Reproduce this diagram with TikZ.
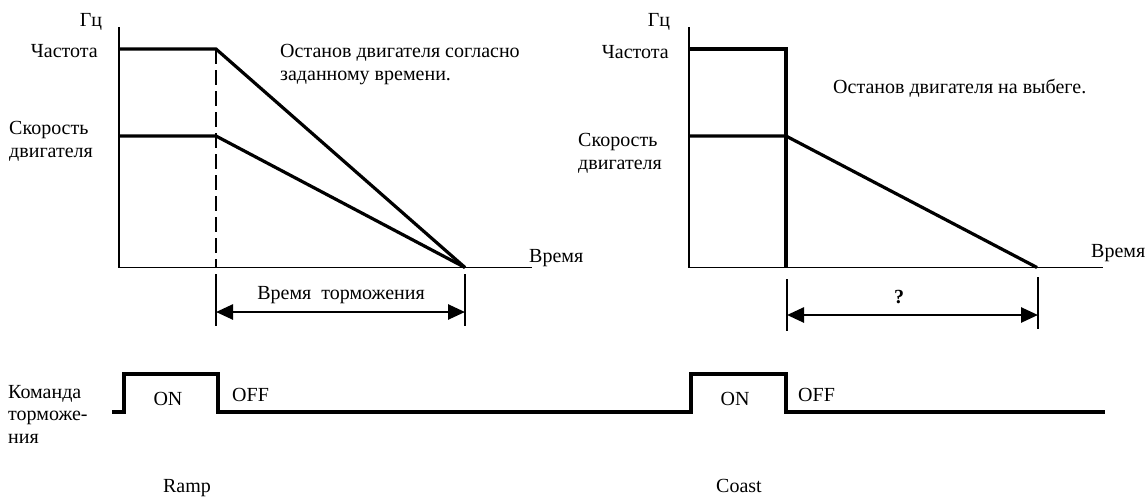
\documentclass[tikz,border=0pt]{standalone}
\usepackage{fontspec}
\setmainfont{Liberation Serif}
\usetikzlibrary{arrows.meta}
\begin{document}
\begin{tikzpicture}[x=1pt,y=-1pt,
  lbl/.style={inner sep=0pt, font=\fontsize{20}{23}\selectfont},
  axisline/.style={line width=1.5pt},
  curve/.style={line width=3.2pt, line join=miter},
  guide/.style={line width=1.5pt, dash pattern=on 15pt off 6pt},
  extline/.style={line width=1.4pt},
  dimarrow/.style={line width=2.6pt, {Triangle[length=17pt,width=15pt]}-{Triangle[length=17pt,width=15pt]}},
  pulse/.style={line width=3.4pt, line join=miter}]
\useasboundingbox (0,0) rectangle (1147,498);

% ---------- left graph (Ramp) ----------
\coordinate (LT) at (119,27);
\coordinate (LO) at (119,267.5);
\coordinate (LX) at (532,267.5);
\draw[axisline] (LT) -- (LO) -- (LX);
\coordinate (LF0) at (119,49);
\coordinate (LF1) at (216,49);
\coordinate (LS0) at (119,136);
\coordinate (LS1) at (216,136);
\coordinate (LE) at (465,267.5);
\coordinate (LD) at (216,267.5);
\draw[curve] (LF0) -- (LF1) -- (LE);
\draw[curve] (LS0) -- (LS1) -- (LE);
\draw[guide] (LF1) -- (LD);
\coordinate (LA0) at (216,274);
\coordinate (LA1) at (216,326);
\coordinate (LB0) at (465,274);
\coordinate (LB1) at (465,326);
\draw[extline] (LA0) -- (LA1);
\draw[extline] (LB0) -- (LB1);
\coordinate (LP) at (216,312);
\coordinate (LQ) at (465,312);
\draw[dimarrow] (LP) -- (LQ);

\node[lbl, anchor=base] (lhz) at (91,26) {Гц};
\node[lbl, anchor=base east] (lfreq) at (98,57) {Частота};
\node[lbl, anchor=base west] (lspd1) at (9,134) {Скорость};
\node[lbl, anchor=base west] (lspd2) at (9,157) {двигателя};
\node[lbl, anchor=base west] (ltitle1) at (280,57) {Останов двигателя согласно};
\node[lbl, anchor=base west] (ltitle2) at (280,80) {заданному времени.};
\node[lbl, anchor=base west] (ltime) at (529,262) {Время};
\node[lbl, anchor=base] (ldecel) at (341,299) {Время\ \ торможения};

% ---------- right graph (Coast) ----------
\coordinate (RT) at (689,27);
\coordinate (RO) at (689,267.5);
\coordinate (RX) at (1103,267.5);
\draw[axisline] (RT) -- (RO) -- (RX);
\coordinate (RF0) at (689,49);
\coordinate (RF1) at (786,49);
\coordinate (RF2) at (786,267.5);
\coordinate (RS0) at (689,136);
\coordinate (RS1) at (786,136);
\coordinate (RE) at (1037,267.5);
\draw[curve] (RF0) -- (RF1) -- (RF2);
\draw[curve] (RS0) -- (RS1) -- (RE);
\coordinate (RA0) at (787,279);
\coordinate (RA1) at (787,331);
\coordinate (RB0) at (1038,277);
\coordinate (RB1) at (1038,329);
\draw[extline] (RA0) -- (RA1);
\draw[extline] (RB0) -- (RB1);
\coordinate (RP) at (787,315);
\coordinate (RQ) at (1038,315);
\draw[dimarrow] (RP) -- (RQ);

\node[lbl, anchor=base] (rhz) at (659,26) {Гц};
\node[lbl, anchor=base east] (rfreq) at (669,58) {Частота};
\node[lbl, anchor=base west] (rspd1) at (578,146) {Скорость};
\node[lbl, anchor=base west] (rspd2) at (578,169) {двигателя};
\node[lbl, anchor=base west] (rtitle) at (833,93) {Останов двигателя на выбеге.};
\node[lbl, anchor=base west] (rtime) at (1091,257) {Время};
\node[lbl, anchor=base] (rq) at (899,303) {\textbf{?}};

% ---------- brake command ----------
\coordinate (P0) at (112,412);
\coordinate (P1) at (124,412);
\coordinate (P2) at (124,374);
\coordinate (P3) at (218,374);
\coordinate (P4) at (218,412);
\coordinate (P5) at (691,412);
\coordinate (P6) at (691,374);
\coordinate (P7) at (786,374);
\coordinate (P8) at (786,412);
\coordinate (P9) at (1105,412);
\draw[pulse] (P0) -- (P1) -- (P2) -- (P3) -- (P4) -- (P5) -- (P6) -- (P7) -- (P8) -- (P9);

\node[lbl, anchor=base west] (cmd1) at (8,398) {Команда};
\node[lbl, anchor=base west] (cmd2) at (8,420) {торможе-};
\node[lbl, anchor=base west] (cmd3) at (8,443) {ния};
\node[lbl, anchor=base] (lon) at (168,405) {ON};
\node[lbl, anchor=base west] (loff) at (232,401) {OFF};
\node[lbl, anchor=base] (ron) at (735,405) {ON};
\node[lbl, anchor=base west] (roff) at (798,401) {OFF};
\node[lbl, anchor=base] (ramp) at (187,492) {Ramp};
\node[lbl, anchor=base] (coast) at (739,492) {Coast};
\end{tikzpicture}
\end{document}
